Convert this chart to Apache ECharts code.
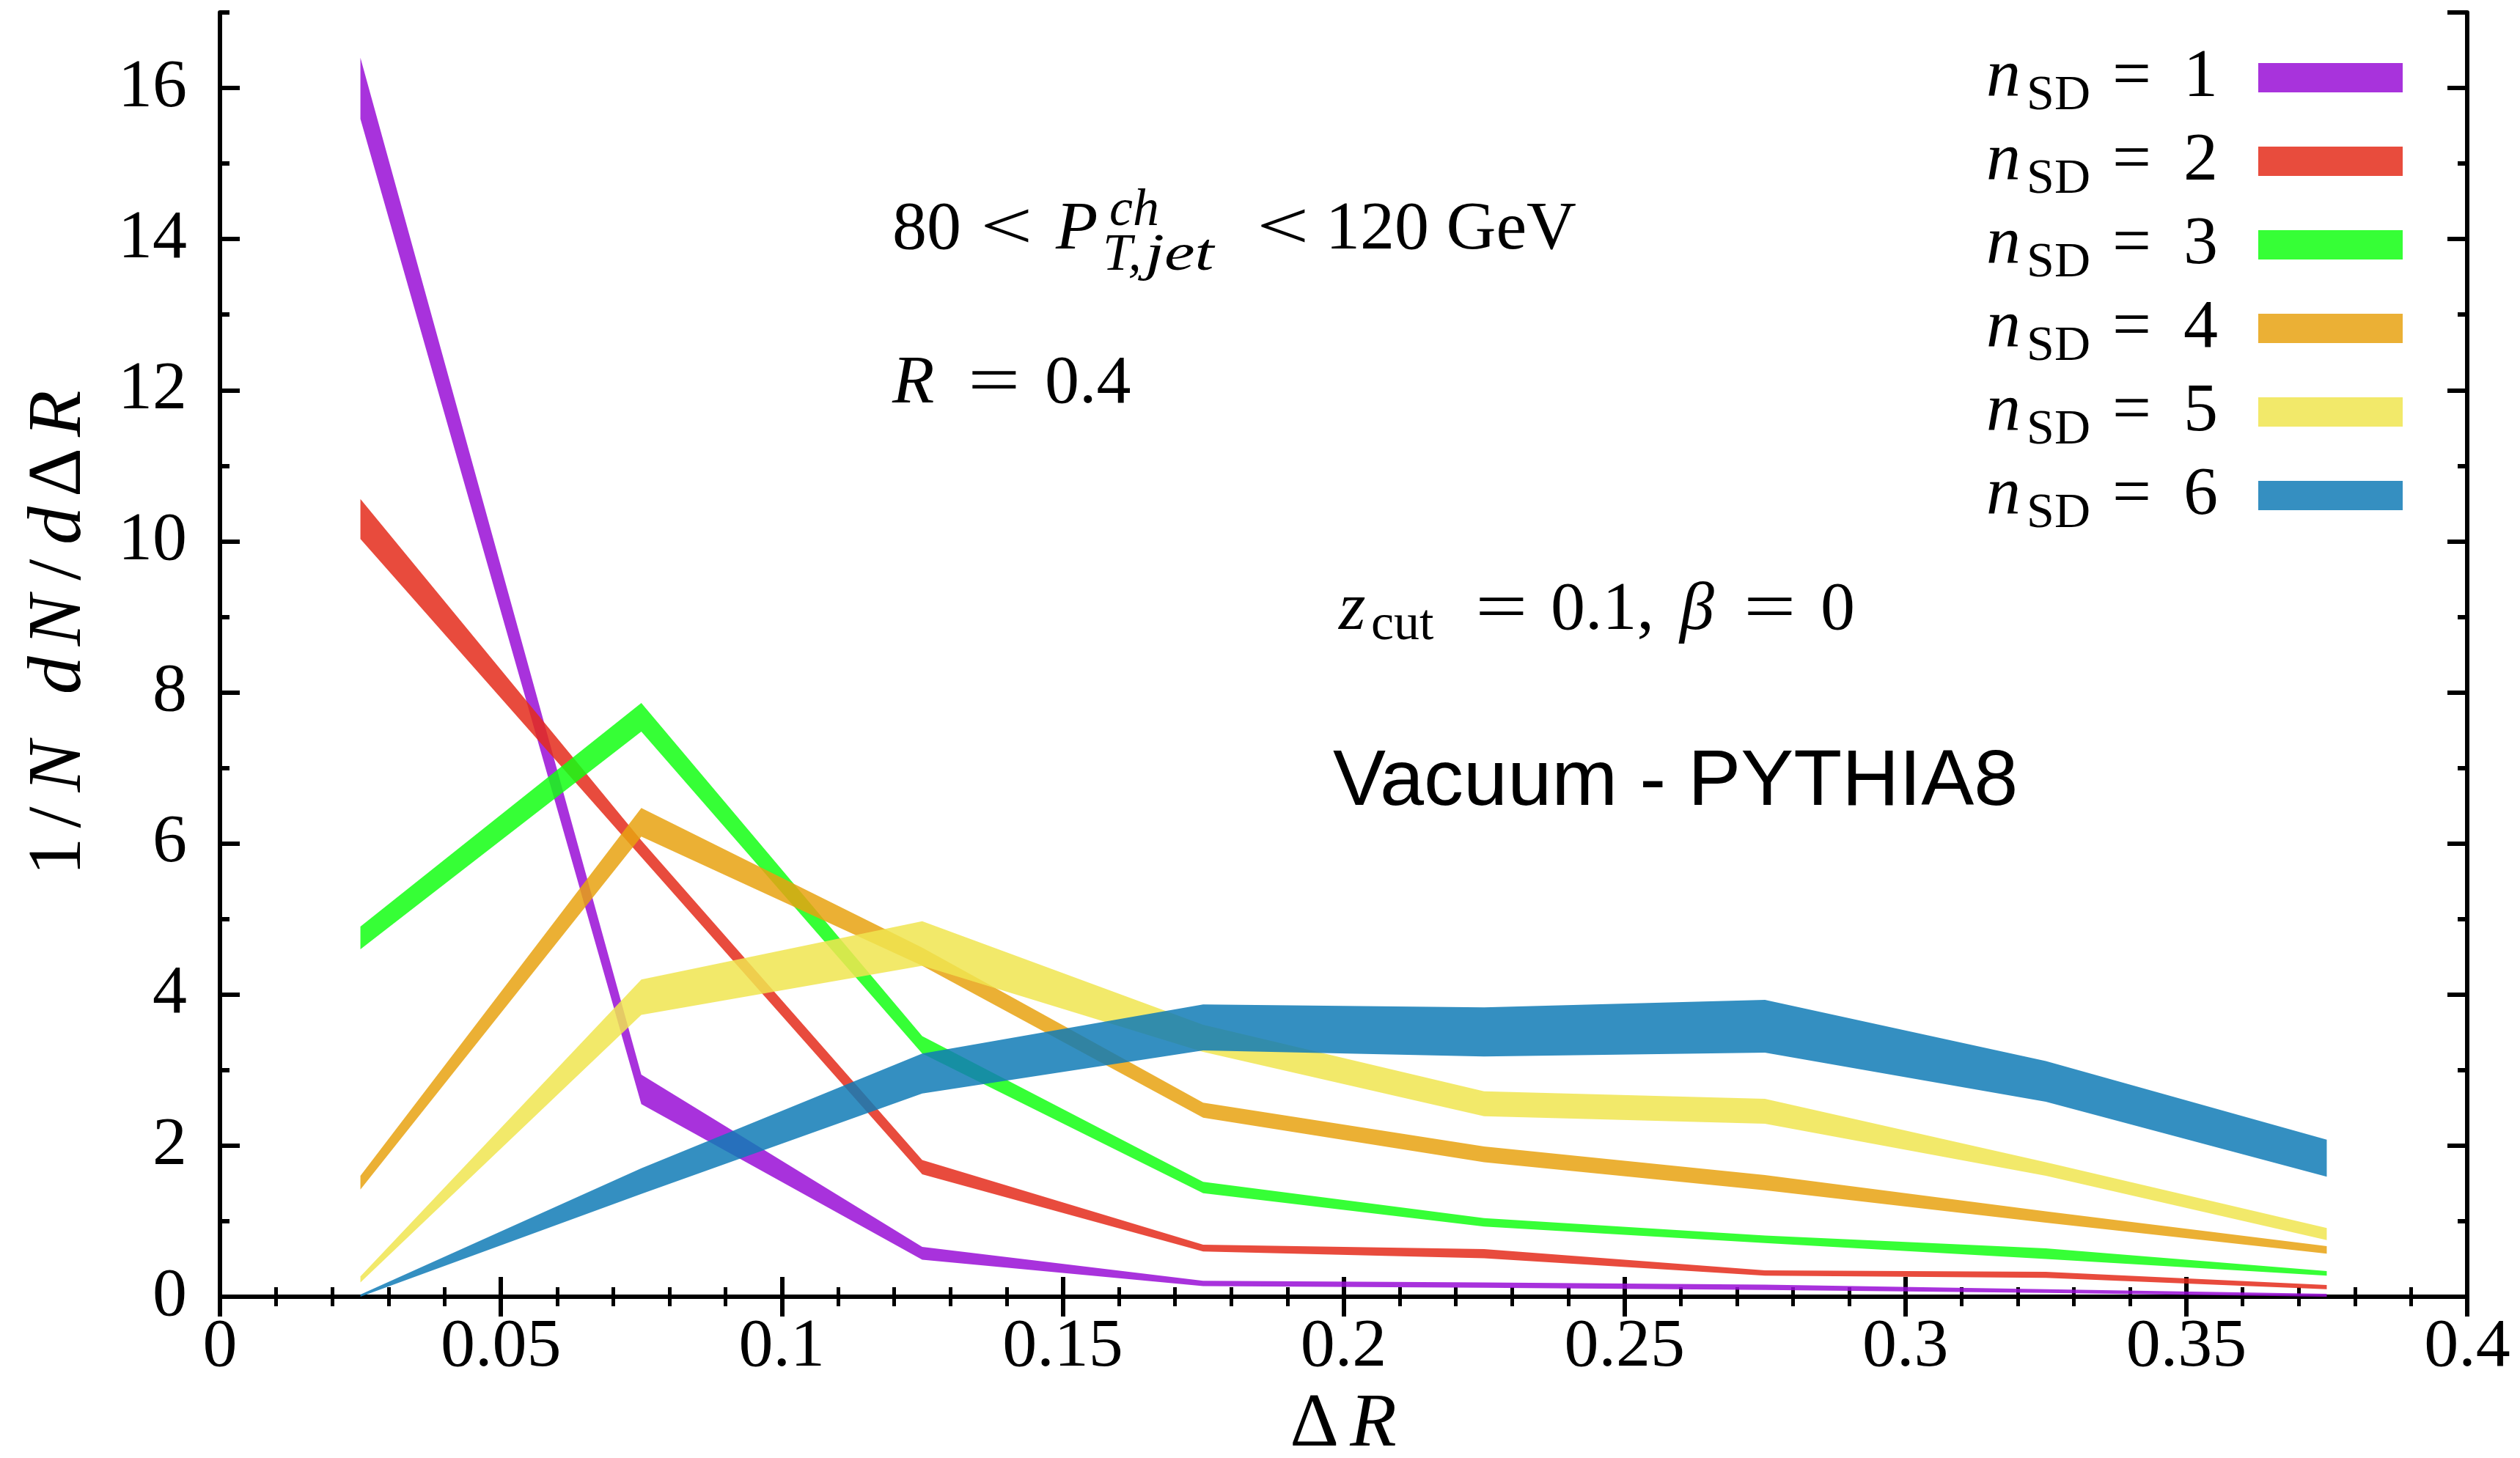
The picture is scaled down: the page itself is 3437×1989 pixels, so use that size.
<!DOCTYPE html>
<html>
<head>
<meta charset="utf-8">
<script src="https://cdn.jsdelivr.net/npm/echarts@6/dist/echarts.min.js"></script>
<style>
  html, body { margin: 0; padding: 0; background: #ffffff; }
  #chart { width: 3437px; height: 1989px; }
</style>
</head>
<body>
<div id="chart"></div>
<script>
// Bin centres in ΔR
const deltaR = [0.025, 0.075, 0.125, 0.175, 0.225, 0.275, 0.325, 0.375];

// n_SD labels shown in the legend
const nsdLabels = ['1', '2', '3', '4', '5', '6'];

// Upper / lower edges of each uncertainty band, 1/N dN/dΔR
const nsd1Hi = [16.40, 2.94, 0.66, 0.21, 0.19, 0.16, 0.10, 0.04];
const nsd1Lo = [15.59, 2.55, 0.49, 0.14, 0.12, 0.09, 0.05, 0.00];

const nsd2Hi = [10.56, 6.04, 1.81, 0.69, 0.63, 0.35, 0.33, 0.155];
const nsd2Lo = [10.03, 5.82, 1.62, 0.60, 0.51, 0.28, 0.25, 0.10];

const nsd3Hi = [4.90, 7.86, 3.45, 1.52, 1.04, 0.81, 0.64, 0.34];
const nsd3Lo = [4.60, 7.48, 3.22, 1.37, 0.93, 0.71, 0.50, 0.28];

const nsd4Hi = [1.60, 6.47, 4.62, 2.57, 1.99, 1.61, 1.13, 0.67];
const nsd4Lo = [1.42, 6.09, 4.38, 2.37, 1.78, 1.41, 0.98, 0.57];

const nsd5Hi = [0.27, 4.20, 4.97, 3.60, 2.72, 2.62, 1.78, 0.91];
const nsd5Lo = [0.19, 3.73, 4.38, 3.24, 2.39, 2.29, 1.60, 0.75];

const nsd6Hi = [0.03, 1.70, 3.22, 3.87, 3.83, 3.93, 3.12, 2.08];
const nsd6Lo = [0.00, 1.36, 2.69, 3.26, 3.18, 3.23, 2.58, 1.59];

// Axis ranges and tick spacing
const xRange = [0, 0.4];
const xStep = 0.05;
const yRange = [0, 17];
const yStep = 2;

// Band fills (semi-transparent) and their appearance on white for the legend
const bandFill  = ['rgba(153,14,214,0.85)', 'rgba(228,44,27,0.85)', 'rgba(19,255,19,0.85)',
                   'rgba(232,162,17,0.85)', 'rgba(240,229,80,0.85)', 'rgba(17,123,182,0.85)'];
const bandShown = ['#a833dc', '#e84c3d', '#36ff36', '#ebb035', '#f2e96a', '#358fc1'];

const his = [nsd1Hi, nsd2Hi, nsd3Hi, nsd4Hi, nsd5Hi, nsd6Hi];
const los = [nsd1Lo, nsd2Lo, nsd3Lo, nsd4Lo, nsd5Lo, nsd6Lo];

const serif = '"Liberation Serif", "DejaVu Serif", serif';
const sans = '"Liberation Sans", Arial, sans-serif';
const FS = 94;

// rich styles for the legend entries
const legendRich = {
  i: { fontFamily: serif, fontSize: FS, lineHeight: 112, fontStyle: 'italic', padding: [0, 8, 0, 0], color: '#000' },
  s: { fontFamily: serif, fontSize: 68, lineHeight: 62, padding: [50, 0, 0, 0], color: '#000' },
  e: { fontFamily: serif, fontSize: FS, lineHeight: 112, padding: [0, 44, 0, 30], color: '#000' },
  r: { fontFamily: serif, fontSize: FS, lineHeight: 112, color: '#000' },
  g: { width: 50, fontSize: FS, lineHeight: 112 }
};

// rich styles for the axis titles
const NF = 104;
const nameRich = {
  a: { fontFamily: serif, fontSize: NF, lineHeight: 120, padding: [0, 0, 0, 66], color: '#000' },
  r: { fontFamily: serif, fontSize: NF, lineHeight: 120, color: '#000' },
  i: { fontFamily: serif, fontSize: NF, lineHeight: 120, fontStyle: 'italic', padding: [0, 7, 0, 7], color: '#000' },
  o: { fontFamily: serif, fontSize: NF, lineHeight: 120, padding: [0, 13, 0, 13], color: '#000' },
  D: { fontFamily: serif, fontSize: NF, lineHeight: 120, padding: [0, 8, 0, 6], color: '#000' },
  g: { width: 50, fontSize: NF, lineHeight: 120 }
};

const bandName = k => 'nSD' + nsdLabels[k];

// each band is a closed polygon: upper edge left to right, lower edge back
const series = his.map((hi, k) => ({
  type: 'custom',
  name: bandName(k),
  coordinateSystem: 'cartesian2d',
  xAxisIndex: 0,
  yAxisIndex: 0,
  clip: true,
  silent: true,
  z: 2 + k,
  itemStyle: { color: bandShown[k] },
  encode: { x: 0, y: 1 },
  data: deltaR.map((x, i) => [x, hi[i], los[k][i]]),
  renderItem: function (params, api) {
    if (params.dataIndex !== 0) return;
    const pts = [];
    for (let i = 0; i < deltaR.length; i++) pts.push(api.coord([deltaR[i], his[k][i]]));
    for (let i = deltaR.length - 1; i >= 0; i--) pts.push(api.coord([deltaR[i], los[k][i]]));
    return {
      type: 'polygon',
      shape: { points: pts },
      style: { fill: bandFill[k], stroke: null }
    };
  }
}));

const axisLineStyle = { show: true, lineStyle: { color: '#000', width: 6 } };
const majorTick = { show: true, inside: true, length: 27, lineStyle: { color: '#000', width: 6 } };
const minorTickY = { show: true, inside: true, length: 13, lineStyle: { color: '#000', width: 6 } };
const minorTickX = { show: true, splitNumber: 5, length: 13, lineStyle: { color: '#000', width: 5 } };

// text pieces placed inside the frame; sx widens relation signs
function t(text, x, y, size, italic, family, sx) {
  return {
    type: 'text', x: x, y: y, z: 20, scaleX: sx || 1,
    style: {
      text: text, fontFamily: family || serif, fontSize: size,
      fontStyle: italic ? 'italic' : 'normal', fill: '#000', verticalAlign: 'middle'
    }
  };
}

const option = {
  animation: false,
  backgroundColor: '#ffffff',
  grid: { left: 300, right: 72, top: 17, bottom: 220, containLabel: false, outerBoundsMode: 'none' },
  xAxis: [
    {
      type: 'value', position: 'bottom', min: xRange[0], max: xRange[1], interval: xStep,
      axisLine: axisLineStyle,
      axisTick: majorTick,
      minorTick: minorTickX,
      splitLine: { show: false },
      axisLabel: { fontFamily: serif, fontSize: FS, color: '#000', margin: 22 },
      name: '{D|Δ}{i|R}',
      nameLocation: 'middle',
      nameGap: 116,
      nameTextStyle: { rich: nameRich }
    },
    {
      type: 'value', position: 'top', min: xRange[0], max: xRange[1], interval: xStep,
      axisLine: axisLineStyle,
      axisTick: majorTick,
      minorTick: minorTickX,
      splitLine: { show: false },
      axisLabel: { show: false }
    }
  ],
  yAxis: [
    {
      type: 'value', position: 'left', min: yRange[0], max: yRange[1], interval: yStep,
      axisLine: axisLineStyle,
      axisTick: majorTick,
      splitLine: { show: false },
      axisLabel: { fontFamily: serif, fontSize: FS, color: '#000', margin: 45, showMaxLabel: false },
      name: '{a|1}{o|/}{i|N}{g| }{i|d}{i|N}{o|/}{i|d}{D|Δ}{i|R}',
      nameLocation: 'middle',
      nameRotate: 90,
      nameGap: 158,
      nameTextStyle: { rich: nameRich }
    },
    {
      type: 'value', position: 'left', min: yRange[0], max: yRange[1], interval: yStep / 2,
      axisLine: { show: false },
      axisTick: minorTickY,
      splitLine: { show: false },
      axisLabel: { show: false }
    },
    {
      type: 'value', position: 'right', min: yRange[0], max: yRange[1], interval: yStep,
      axisLine: axisLineStyle,
      axisTick: majorTick,
      splitLine: { show: false },
      axisLabel: { show: false }
    },
    {
      type: 'value', position: 'right', min: yRange[0], max: yRange[1], interval: yStep / 2,
      axisLine: { show: false },
      axisTick: minorTickY,
      splitLine: { show: false },
      axisLabel: { show: false }
    }
  ],
  legend: {
    orient: 'vertical',
    right: 160,
    top: 47,
    padding: 0,
    align: 'right',
    icon: 'rect',
    itemWidth: 197,
    itemHeight: 40,
    itemGap: -4,
    selectedMode: false,
    itemStyle: { borderWidth: 0 },
    data: nsdLabels.map((lab, k) => ({ name: bandName(k), itemStyle: { color: bandShown[k], opacity: 1 } })),
    formatter: name => '{i|n}{s|SD}{e|=}{r|' + name.replace('nSD', '') + '}{g| }',
    textStyle: { rich: legendRich, color: '#000' }
  },
  graphic: [
    // 80 < P^ch_{T,jet} < 120 GeV
    t('80', 1217, 314, FS),
    t('<', 1337, 314, FS, false, serif, 1.35),
    t('P', 1440, 314, FS, true),
    t('ch', 1513, 288, 72, true),
    t('T,', 1504, 349, 72, true),
    t('jet', 1562, 349, 72, true, serif, 1.3),
    t('<', 1714, 314, FS, false, serif, 1.35),
    t('120 GeV', 1808, 314, FS),
    // R = 0.4
    t('R', 1217, 524, FS, true),
    t('=', 1320, 524, FS, false, serif, 1.35),
    t('0.4', 1425, 524, FS),
    // z_cut = 0.1, β = 0
    t('z', 1826, 833, FS, true),
    t('cut', 1870, 854, 70),
    t('=', 2012, 833, FS, false, serif, 1.35),
    t('0.1,', 2115, 833, FS),
    t('β', 2291, 833, FS, true),
    t('=', 2378, 833, FS, false, serif, 1.35),
    t('0', 2483, 833, FS),
    // generator label
    t('Vacuum - PYTHIA8', 1818, 1068, 108, false, sans)
  ],
  series: series
};

const chart = echarts.init(document.getElementById('chart'), null, { renderer: 'canvas' });
chart.setOption(option);
</script>
</body>
</html>
